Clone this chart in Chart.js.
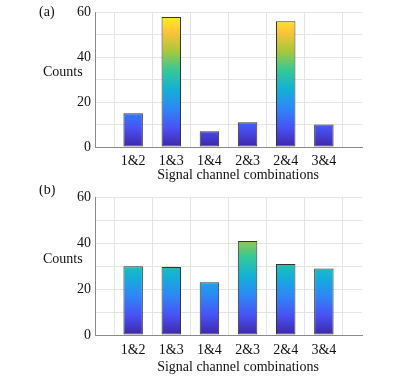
<!DOCTYPE html>
<html>
<head>
<meta charset="utf-8">
<script src="https://cdn.jsdelivr.net/npm/chart.js@4"></script>
<style>
  html, body { margin: 0; padding: 0; background: #fff; }
  body { width: 415px; height: 376px; position: relative; overflow: hidden; }
  .panel { position: absolute; left: 0; width: 415px; }
  #pa { top: 0; height: 185px; }
  #pb { top: 185px; height: 191px; }
</style>
</head>
<body>
<div class="panel" id="pa"><canvas id="ca"></canvas></div>
<div class="panel" id="pb"><canvas id="cb"></canvas></div>
<script>
const categories = ['1&2', '1&3', '1&4', '2&3', '2&4', '3&4'];
const countsA = [15, 58, 7, 11, 56, 10];
const countsB = [30, 29.6, 23, 41, 31, 29];
const yTickLabels = [0, 20, 40, 60];
const panelLabels = ['(a)', '(b)'];
const xTitle = 'Signal channel combinations';
const yTitle = 'Counts';

const FONT = '"Liberation Serif", "DejaVu Serif", serif';
const TEXT = '#111111';

// parula-like colormap stops
const parula = [
  [0.000, '#3E26A8'],
  [0.143, '#4852F4'],
  [0.286, '#2E87F7'],
  [0.429, '#12B1D6'],
  [0.571, '#37C897'],
  [0.714, '#ABC739'],
  [0.857, '#FEC338'],
  [1.000, '#F9FB15']
];

function gradientFill(context) {
  const chart = context.chart;
  const ys = chart.scales.y;
  if (!chart.chartArea || !ys) return '#2E87F7';
  const g = chart.ctx.createLinearGradient(0, ys.getPixelForValue(0), 0, ys.getPixelForValue(60));
  parula.forEach(([p, c]) => g.addColorStop(p, c));
  return g;
}

function makeChart(id, values, panelLabel, opts) {
  const labels = [''].concat(categories, ['']);
  const data = [null].concat(values, [null]);
  const textPlugin = {
    id: 'txt' + id,
    afterDraw(chart) {
      const ctx = chart.ctx;
      ctx.save();
      ctx.fillStyle = TEXT;
      ctx.font = '14px ' + FONT;
      ctx.textBaseline = 'middle';
      ctx.textAlign = 'left';
      ctx.fillText(panelLabel, 39, opts.labelY);
      ctx.fillText(yTitle, 43, chart.scales.y.getPixelForValue(33.2));
      ctx.textAlign = 'center';
      ctx.fillText(xTitle, 238, chart.chartArea.bottom + opts.titleOff);
      ctx.restore();
    }
  };
  return new Chart(document.getElementById(id), {
    type: 'bar',
    data: {
      labels: labels,
      datasets: [{
        data: data,
        backgroundColor: gradientFill,
        borderColor: '#35352e',
        borderWidth: 1,
        borderSkipped: false,
        categoryPercentage: 1,
        barPercentage: 0.51
      }]
    },
    options: {
      responsive: true,
      maintainAspectRatio: false,
      animation: false,
      events: [],
      layout: { padding: { left: 0, right: 53, top: opts.top, bottom: 0 } },
      plugins: { legend: { display: false }, tooltip: { enabled: false } },
      scales: {
        x: {
          type: 'category',
          offset: false,
          grid: { color: '#e4e4e4', drawTicks: false },
          border: { color: '#8a8a8a', width: 1 },
          ticks: { color: TEXT, font: { family: FONT, size: 14 }, padding: opts.tickPad, maxRotation: 0, autoSkip: false },
          title: { display: false },
          afterFit(scale) { scale.height = opts.xh; }
        },
        y: {
          min: 0, max: 60,
          grid: { color: '#e4e4e4', drawTicks: false },
          border: { color: '#8a8a8a', width: 1 },
          ticks: {
            stepSize: 10,
            color: TEXT,
            font: { family: FONT, size: 14 },
            padding: 4,
            callback: (v) => yTickLabels.includes(v) ? String(v) : ''
          },
          afterFit(scale) { scale.width = 95; }
        }
      }
    },
    plugins: [textPlugin]
  });
}

makeChart('ca', countsA, panelLabels[0], { top: 9, xh: 38, tickPad: 6, titleOff: 28, labelY: 12 });
makeChart('cb', countsB, panelLabels[1], { top: 11, xh: 41, tickPad: 7, titleOff: 32, labelY: 5 });
</script>
</body>
</html>
